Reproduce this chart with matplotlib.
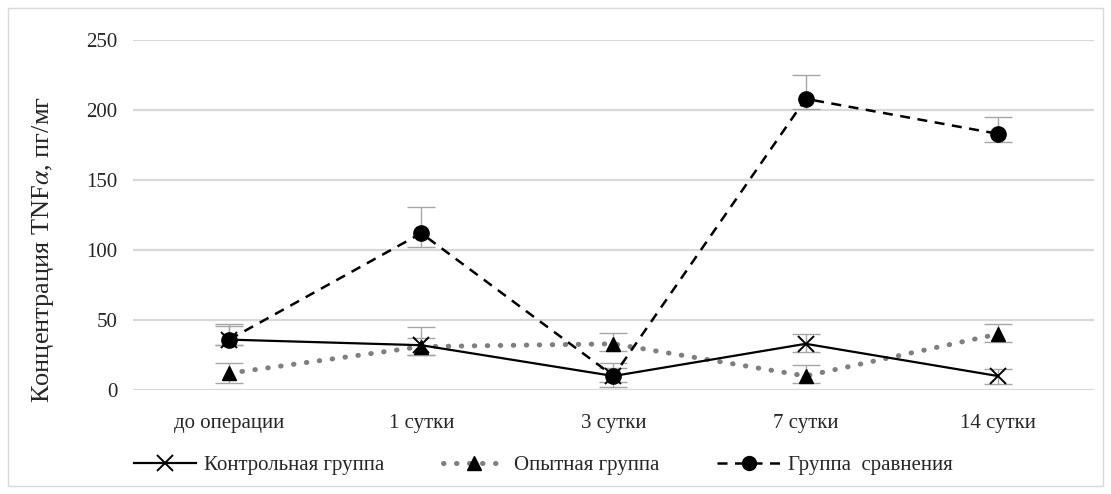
import matplotlib
matplotlib.use("Agg")
import matplotlib.pyplot as plt
from matplotlib.lines import Line2D
from matplotlib.patches import Rectangle
import numpy as np

plt.rcParams['font.family'] = ['Liberation Serif', 'DejaVu Serif']
plt.rcParams['mathtext.fontset'] = 'stix'

categories = ["до операции", "1 сутки", "3 сутки", "7 сутки", "14 сутки"]

control = [36, 32, 10, 33, 10]
control_err_low = [4, 7, 4, 6, 6]
control_err_high = [10, 13, 6, 7, 5]

experimental = [12, 31, 33, 10, 40]
experimental_err_low = [7, 6, 5, 5, 6]
experimental_err_high = [7, 6, 8, 8, 7]

comparison = [36, 112, 10, 208, 183]
comparison_err_low = [4, 10, 8, 7, 6]
comparison_err_high = [11, 19, 9, 17, 12]

series_names = ["Контрольная группа", "Опытная группа", "Группа  сравнения"]
y_ticks = [0, 50, 100, 150, 200, 250]

fig = plt.figure(figsize=(11.11, 4.94), dpi=100)
ax = fig.add_axes([0.1197, 0.2105, 0.865, 0.7085])

x = np.arange(len(categories))
err_kw = dict(fmt='none', ecolor='#a6a6a6', elinewidth=1.0, capsize=10, capthick=1.0, zorder=2)

ax.errorbar(x, comparison, yerr=[comparison_err_low, comparison_err_high], **err_kw)
ax.errorbar(x, experimental, yerr=[experimental_err_low, experimental_err_high], **err_kw)
ax.errorbar(x, control, yerr=[control_err_low, control_err_high], **err_kw)

dots = (0, (0.1, 2.5))
ax.plot(x, experimental, color='#7f7f7f', linestyle=dots, linewidth=3.6,
        dash_capstyle='round', zorder=3)
ax.plot(x, experimental, linestyle='none', marker='^', markersize=10, color='black', zorder=4)
ax.plot(x, comparison, color='black', linestyle=(0, (4, 3)), linewidth=1.8,
        marker='o', markersize=11, zorder=4)
ax.plot(x, control, color='black', linestyle='-', linewidth=1.6,
        marker='x', markersize=11, markeredgewidth=1.4, zorder=5)

ax.set_xlim(-0.5, len(categories) - 0.5)
ax.set_ylim(0, 250)
ax.set_yticks(y_ticks)
ax.set_xticks(x)
ax.set_xticklabels(categories)
ax.tick_params(axis='both', length=0, labelsize=15, colors='#262626')
ax.tick_params(axis='x', pad=17)
ax.tick_params(axis='y', pad=11)
ax.grid(axis='y', color='#d9d9d9', linewidth=1.6)
ax.set_axisbelow(True)
for s in ax.spines.values():
    s.set_visible(False)

ax.set_ylabel("Концентрация TNF$\\it{\\alpha}$, пг/мг", fontsize=19, color='#262626')
ax.yaxis.set_label_coords(-0.080, 0.40)

handles = [
    Line2D([], [], color='black', linewidth=1.6, marker='x', markersize=11, markeredgewidth=1.4),
    Line2D([], [], color='#7f7f7f', linestyle=dots, linewidth=3.6,
           dash_capstyle='round', marker='^', markersize=10,
           markerfacecolor='black', markeredgecolor='black'),
    Line2D([], [], color='black', linestyle=(0, (4, 3)), linewidth=1.8, marker='o', markersize=10),
]
fig.legend(handles, series_names, loc='center', bbox_to_anchor=(0.489, 0.058), ncol=3,
           frameon=False, fontsize=15, handlelength=3.0, handletextpad=0.4,
           columnspacing=2.8, labelcolor='#262626')

fig.patches.append(Rectangle((0.007, 0.016), 0.986, 0.968, transform=fig.transFigure,
                             fill=False, edgecolor='#d9d9d9', linewidth=1.0))

fig.savefig("out.png", dpi=100)
